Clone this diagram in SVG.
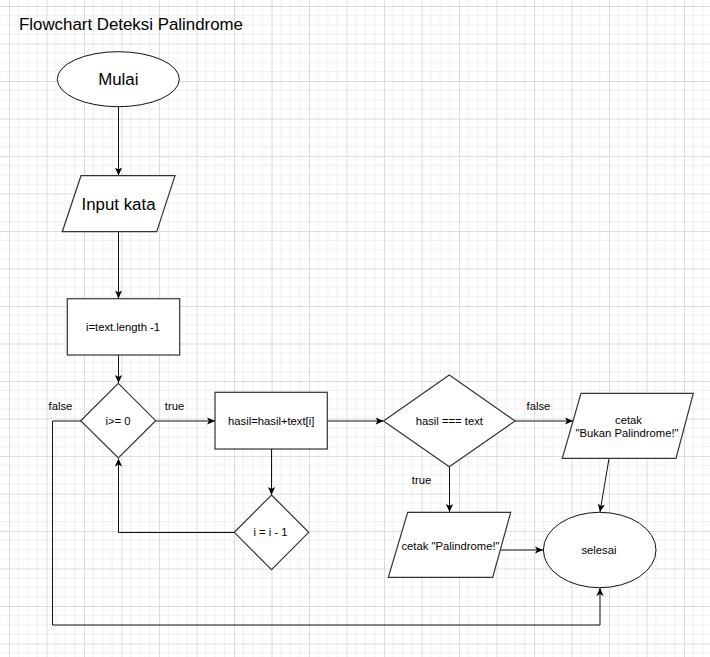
<svg xmlns="http://www.w3.org/2000/svg" width="710" height="657" viewBox="0 0 710 657">
<defs>
<pattern id="grid" patternUnits="userSpaceOnUse" x="9" y="6" width="37.5" height="37.5">
<rect width="37.5" height="37.5" fill="#ffffff"/>
<path d="M9.375,0V37.5M18.75,0V37.5M28.125,0V37.5M0,9.375H37.5M0,18.75H37.5M0,28.125H37.5" stroke="#f0f0f0" stroke-width="1" fill="none"/>
<path d="M0.5,0V37.5M0,0.5H37.5" stroke="#dcdcdc" stroke-width="1" fill="none"/>
</pattern>
<marker id="arr" viewBox="0 0 10 10" refX="10" refY="5" markerWidth="8" markerHeight="8" markerUnits="userSpaceOnUse" orient="auto">
<path d="M0,0.5 L10,5 L0,9.5 L2.5,5 Z" fill="#000"/>
</marker>
<style>
.shape{fill:#fff;stroke:#333;stroke-width:1.2}
.oval{fill:#fff;stroke:#111;stroke-width:1}
.conn{fill:none;stroke:#111;stroke-width:1}
.t{font-family:"Liberation Sans",Arial,sans-serif;font-size:11.25px;fill:#000;text-anchor:middle}
.big{font-size:16.875px}
</style>
</defs>
<rect width="710" height="657" fill="url(#grid)"/>
<text x="19" y="30" font-family="Liberation Sans, Arial, sans-serif" font-size="16.875" fill="#000">Flowchart Deteksi Palindrome</text>
<g id="connectors">
<path class="conn" d="M118.5,107 V175.5" marker-end="url(#arr)"/>
<path class="conn" d="M118.5,232 V298.5" marker-end="url(#arr)"/>
<path class="conn" d="M118.5,355 V383" marker-end="url(#arr)"/>
<path class="conn" d="M156,421 H215" marker-end="url(#arr)"/>
<path class="conn" d="M81,421 H52.5 V625 H600 V588" marker-end="url(#arr)"/>
<path class="conn" d="M271.5,449 V495" marker-end="url(#arr)"/>
<path class="conn" d="M234.5,532.5 H118.5 V458.5" marker-end="url(#arr)"/>
<path class="conn" d="M327,421 H383.5" marker-end="url(#arr)"/>
<path class="conn" d="M515,421 H573" marker-end="url(#arr)"/>
<path class="conn" d="M609,458.5 L600,512" marker-end="url(#arr)"/>
<path class="conn" d="M449.5,467 V512" marker-end="url(#arr)"/>
<path class="conn" d="M498,550 H543" marker-end="url(#arr)"/>
<text class="t" x="60.5" y="409.5">false</text>
<text class="t" x="174.5" y="409.5">true</text>
<text class="t" x="538.5" y="409.5">false</text>
<text class="t" x="421.5" y="483.5">true</text>
</g>
<g id="mulai">
<ellipse class="oval" cx="118.3" cy="79.2" rx="61" ry="27.5"/>
<text class="t big" x="118.3" y="85">Mulai</text>
</g>
<g id="input">
<polygon class="shape" points="81,175.7 175,175.7 156.7,231.7 62.3,231.7"/>
<text class="t big" x="118.5" y="209.5">Input kata</text>
</g>
<g id="init">
<rect class="shape" x="67.3" y="298.7" width="112.4" height="56.3"/>
<text class="t" x="123" y="331">i=text.length -1</text>
</g>
<g id="cond1">
<polygon class="shape" points="118.3,383.3 155.7,420.7 118.3,458 80.7,420.7"/>
<text class="t" x="118" y="424.5">i&gt;= 0</text>
</g>
<g id="hasil">
<rect class="shape" x="215" y="392.3" width="112.3" height="56.7"/>
<text class="t" x="271.2" y="424.5">hasil=hasil+text[i]</text>
</g>
<g id="decrement">
<polygon class="shape" points="271.5,495 308.7,532.3 271.5,569.7 234.3,532.3"/>
<text class="t" x="270.5" y="536">i = i - 1</text>
</g>
<g id="cond2">
<polygon class="shape" points="449.3,375 515,421 449.3,466.7 383.5,421"/>
<text class="t" x="449.3" y="424.5">hasil === text</text>
</g>
<g id="bukan">
<polygon class="shape" points="581,393.3 693.3,393.3 676,458.3 562.3,458.3"/>
<text class="t" x="628.5" y="424.3">cetak</text>
<text class="t" x="627" y="437">"Bukan Palindrome!"</text>
</g>
<g id="palindrome">
<polygon class="shape" points="407.7,512.3 510.7,512.3 492.7,577.3 388.3,577.3"/>
<text class="t" x="450.5" y="549.5">cetak "Palindrome!"</text>
</g>
<g id="selesai">
<ellipse class="oval" cx="599.7" cy="550" rx="56.3" ry="37.7"/>
<text class="t" x="599" y="554">selesai</text>
</g>
</svg>
